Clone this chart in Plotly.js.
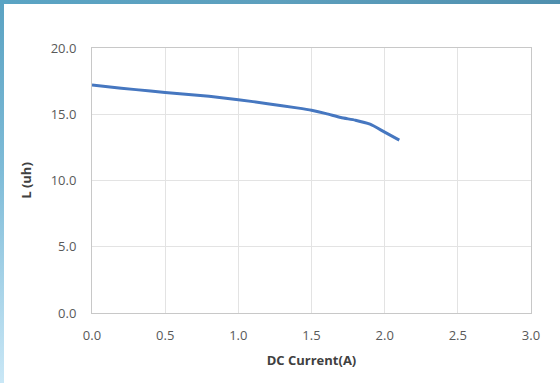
<!DOCTYPE html>
<html>
<head>
<meta charset="utf-8">
<script src="https://cdn.plot.ly/plotly-3.0.1.min.js"></script>
<style>
  html, body { margin: 0; padding: 0; }
  #frame { position: relative; width: 560px; height: 383px; overflow: hidden;
    background: linear-gradient(180deg, #5aa2c2 0%, #7fbcd8 45%, #c9e7f6 100%); }
  #topbar { position: absolute; left: 0; top: 0; width: 560px; height: 4px;
    background: linear-gradient(90deg, #5aa4c4 0%, #5d9fbd 50%, #4f8fae 100%); }
  #chart { position: absolute; left: 4px; top: 4px; width: 556px; height: 379px; background: #fff; }
</style>
</head>
<body>
<div id="frame"><div id="topbar"></div><div id="chart"></div></div>
<script>
const current = [0.0, 0.2, 0.4, 0.6, 0.8, 1.0, 1.2, 1.4, 1.5, 1.6, 1.7, 1.8, 1.9, 2.0, 2.1];
const inductance = [17.2, 16.97, 16.75, 16.55, 16.35, 16.1, 15.8, 15.48, 15.3, 15.05, 14.75, 14.55, 14.25, 13.65, 13.05];
const xTicks = [0, 0.5, 1.0, 1.5, 2.0, 2.5, 3.0];
const yTicks = [0, 5, 10, 15, 20];
const xTitle = "DC Current(A)";
const yTitle = "L (uh)";

const tickFont = {family: "Open Sans, sans-serif", size: 13, color: "#595959"};
const titleFont = {family: "Open Sans, sans-serif", size: 13, color: "#404040", weight: "bold"};

Plotly.newPlot("chart", [{
  x: current, y: inductance, type: "scatter", mode: "lines",
  line: {color: "#4677c0", width: 3, shape: "spline", smoothing: 0.6},
  hoverinfo: "skip"
}], {
  width: 556, height: 379,
  margin: {l: 88, r: 29, t: 44, b: 70},
  paper_bgcolor: "#ffffff", plot_bgcolor: "#ffffff",
  showlegend: false,
  xaxis: {
    range: [0, 3], tickvals: xTicks, tickformat: ".1f",
    showgrid: true, gridcolor: "#e3e3e3", gridwidth: 1,
    showline: true, linecolor: "#c8c8c8", linewidth: 1, mirror: true,
    zeroline: false, ticks: "outside", ticklen: 10, tickcolor: "rgba(0,0,0,0)",
    tickfont: tickFont,
    title: {text: xTitle, font: titleFont, standoff: 13}
  },
  yaxis: {
    range: [0, 20], tickvals: yTicks, tickformat: ".1f",
    showgrid: true, gridcolor: "#e3e3e3", gridwidth: 1,
    showline: true, linecolor: "#c8c8c8", linewidth: 1, mirror: true,
    zeroline: false, ticks: "outside", ticklen: 12, tickcolor: "rgba(0,0,0,0)",
    tickfont: tickFont,
    title: {text: yTitle, font: titleFont, standoff: 16}
  }
}, {staticPlot: true, displayModeBar: false});
</script>
</body>
</html>
